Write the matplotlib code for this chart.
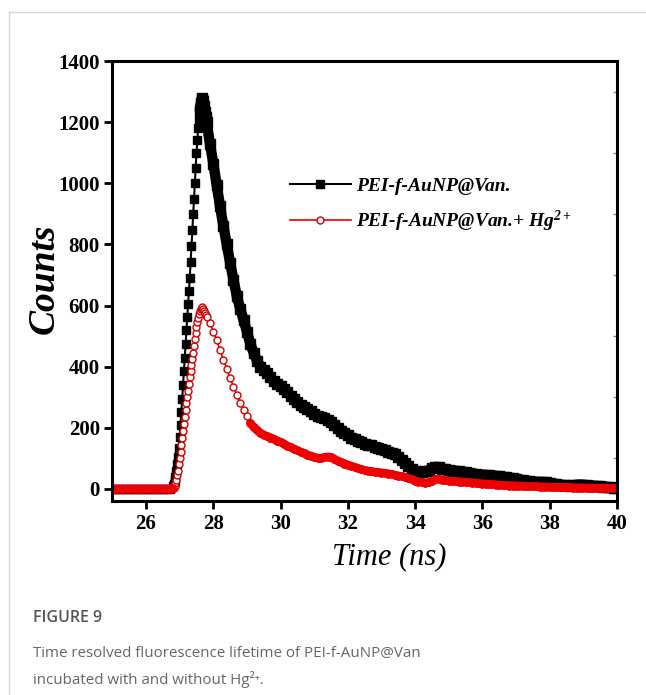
import numpy as np
import matplotlib.pyplot as plt
from matplotlib.lines import Line2D
from matplotlib.ticker import MultipleLocator

plt.rcParams['font.family'] = 'Liberation Serif'
plt.rcParams['font.weight'] = 'bold'
plt.rcParams['mathtext.fontset'] = 'custom'
plt.rcParams['mathtext.rm'] = 'Liberation Serif:italic:bold'
plt.rcParams['mathtext.it'] = 'Liberation Serif:italic:bold'
plt.rcParams['mathtext.bf'] = 'Liberation Serif:italic:bold'

# time channels (ns)
time_ns = [
    25.0, 25.1, 25.2, 25.3, 25.4, 25.5, 25.6, 25.7, 25.8, 25.9,
    26.0, 26.1, 26.2, 26.3, 26.4, 26.5, 26.6, 26.7,
    26.8, 26.825, 26.85, 26.875, 26.9, 26.925, 26.95, 26.975,
    27.0, 27.025, 27.05, 27.075, 27.1, 27.125, 27.15, 27.175,
    27.2, 27.225, 27.25, 27.275, 27.3, 27.325, 27.35, 27.375,
    27.4, 27.425, 27.45, 27.475, 27.5, 27.525, 27.55, 27.575,
    27.6, 27.625, 27.65, 27.675, 27.7, 27.725, 27.75, 27.775, 27.8,
    27.9, 28.0, 28.1, 28.2, 28.3, 28.4, 28.5, 28.6, 28.7, 28.8,
    28.9, 29.0, 29.1, 29.2, 29.3, 29.4, 29.5, 29.6, 29.7, 29.8,
    29.9, 30.0, 30.1, 30.2, 30.3, 30.4, 30.5, 30.6, 30.7, 30.8,
    30.9, 31.0, 31.1, 31.2, 31.3, 31.4, 31.5, 31.6, 31.7, 31.8,
    31.9, 32.0, 32.1, 32.2, 32.3, 32.4, 32.5, 32.6, 32.7, 32.8,
    32.9, 33.0, 33.1, 33.2, 33.3, 33.4, 33.5, 33.6, 33.7, 33.8,
    33.9, 34.0, 34.1, 34.2, 34.3, 34.4, 34.5, 34.6, 34.7, 34.8,
    34.9, 35.0, 35.1, 35.2, 35.3, 35.4, 35.5, 35.6, 35.7, 35.8,
    35.9, 36.0, 36.1, 36.2, 36.3, 36.4, 36.5, 36.6, 36.7, 36.8,
    36.9, 37.0, 37.1, 37.2, 37.3, 37.4, 37.5, 37.6, 37.7, 37.8,
    37.9, 38.0, 38.1, 38.2, 38.3, 38.4, 38.5, 38.6, 38.7, 38.8,
    38.9, 39.0, 39.1, 39.2, 39.3, 39.4, 39.5, 39.6, 39.7, 39.8,
    39.9, 40.0,
]

counts_van = [
    0, 0, 0, 0, 0, 0, 0, 0, 0, 0,
    0, 0, 0, 0, 0, 0, 0, 0,
    8, 15, 25, 40, 60, 82, 105, 135,
    170, 210, 250, 295, 340, 385, 430, 475,
    520, 562, 605, 648, 690, 742, 795, 848,
    900, 950, 1000, 1050, 1100, 1142, 1180, 1212,
    1240, 1262, 1275, 1278, 1268, 1252, 1235, 1218, 1200,
    1130, 1065, 995, 925, 860, 800, 740, 684, 630, 590,
    553, 515, 475, 445, 420, 400, 388, 378, 365, 352,
    342, 336, 328, 318, 305, 295, 285, 275, 268, 262,
    255, 245, 240, 236, 232, 226, 218, 208, 200, 190,
    182, 175, 168, 162, 157, 152, 148, 145, 142, 138,
    135, 130, 126, 122, 118, 113, 105, 96, 85, 74,
    65, 58, 56, 55, 57, 60, 68, 72, 70, 66,
    64, 62, 60, 59, 57, 55, 54, 52, 50, 49,
    47, 46, 45, 44, 43, 42, 41, 40, 38, 36,
    34, 32, 30, 28, 26, 25, 24, 23, 22, 22,
    21, 19, 17, 15, 13, 12, 12, 11, 12, 13,
    14, 13, 12, 11, 10, 9, 8, 7, 6, 5,
    4, 3,
]

counts_van_hg = [
    0, 0, 0, 0, 0, 0, 0, 0, 0, 0,
    0, 0, 0, 0, 0, 0, 0, 0,
    2, 4, 8, 18, 30, 44, 60, 80,
    100, 122, 145, 168, 190, 212, 235, 258,
    280, 300, 322, 344, 365, 385, 405, 425,
    445, 468, 490, 510, 530, 546, 560, 572,
    582, 589, 593, 594, 590, 583, 575, 568, 562,
    543, 515, 487, 455, 422, 393, 362, 335, 308, 281,
    258, 237, 216, 202, 192, 183, 177, 172, 168, 163,
    158, 153, 147, 141, 136, 131, 126, 121, 117, 112,
    108, 104, 101, 101, 103, 105, 104, 98, 92, 87,
    83, 79, 75, 71, 67, 64, 61, 59, 57, 55,
    54, 53, 52, 50, 48, 45, 43, 41, 38, 35,
    31, 27, 24, 22, 20, 21, 26, 31, 32, 30,
    28, 27, 26, 25, 24, 23, 22, 21, 20, 19,
    18, 17, 16, 15, 15, 14, 13, 12, 12, 11,
    11, 10, 10, 9, 9, 8, 8, 8, 7, 7,
    7, 6, 6, 6, 5, 5, 5, 5, 4, 4,
    4, 4, 3, 3, 3, 3, 3, 3, 2, 2,
    2, 2,
]

labels = ['PEI-f-AuNP@Van.', r'PEI-f-AuNP@Van.+ Hg$^{2+}$']

t = np.array(time_ns)
c1 = np.array(counts_van)
c2 = np.array(counts_van_hg)

fig = plt.figure(figsize=(6.46, 6.95), dpi=100)
ax = fig.add_axes([0.174, 0.279, 0.781, 0.633])

black = '#000000'
red = '#ee0000'

ax.plot(t, c1, '-', color=black, lw=1.5, marker='s', markersize=5.5,
        markerfacecolor=black, markeredgecolor=black, label=labels[0])
# decay part is a dense run of squares -> thick band
dec = t >= 27.6
ax.plot(t[dec], c1[dec], '-', color=black, lw=7.5, marker='s', markersize=7,
        markerfacecolor=black, markeredgecolor=black, solid_capstyle='round')

ax.plot(t, c2, '-', color=red, lw=1.2, marker='o', markersize=5,
        markerfacecolor='white', markeredgecolor='#d00000', markeredgewidth=1,
        label=labels[1])
# baseline and tail: circles merge into a solid red band
for seg in (t <= 26.8, t >= 29.1):
    ax.plot(t[seg], c2[seg], '-', color=red, lw=6, marker='o', markersize=5,
            markerfacecolor=red, markeredgecolor=red, solid_capstyle='round')

ax.set_xlim(25, 40)
ax.set_ylim(-40, 1400)
ax.xaxis.set_major_locator(MultipleLocator(2))
ax.yaxis.set_major_locator(MultipleLocator(200))
ax.yaxis.set_minor_locator(MultipleLocator(100))

for s in ax.spines.values():
    s.set_linewidth(2.2)
ax.tick_params(which='major', direction='out', length=6, width=2,
               labelsize=15, pad=3)
ax.tick_params(which='minor', left=False, right=True, direction='in',
               length=3, width=1, color='#888888')

ax.set_xlabel('Time (ns)', fontsize=22, fontstyle='italic', fontweight='normal',
              va='top')
ax.xaxis.set_label_coords(0.548, -0.093)
ax.set_ylabel('Counts', fontsize=27, fontstyle='italic', fontweight='bold')
ax.yaxis.set_label_coords(-0.1, 0.505)

ax.legend(loc='upper left', bbox_to_anchor=(0.318, 0.776), frameon=False,
          numpoints=1, handlelength=3.1, handletextpad=0.3, labelspacing=0.7,
          prop={'family': 'Liberation Serif', 'style': 'italic',
                'weight': 'bold', 'size': 14})

# card border and caption
fig.add_artist(Line2D([9 / 646, 9 / 646], [0, 1 - 12 / 695],
                      transform=fig.transFigure, color='#d4d4d4', lw=1))
fig.add_artist(Line2D([9 / 646, 1], [1 - 12 / 695, 1 - 12 / 695],
                      transform=fig.transFigure, color='#d4d4d4', lw=1))
fig.text(33 / 646, 1 - 618 / 695, 'FIGURE 9', family='Open Sans',
         fontsize=11.5, fontweight='semibold', color='#555555', va='center')
fig.text(33 / 646, 1 - 653 / 695,
         'Time resolved fluorescence lifetime of PEI-f-AuNP@Van',
         family='Open Sans', fontsize=10.9, fontweight='normal',
         color='#666666', va='center')
fig.text(33 / 646, 1 - 680 / 695, 'incubated with and without Hg²⁺.',
         family=['Open Sans', 'DejaVu Sans'], fontsize=10.9,
         fontweight='normal', color='#666666', va='center')

fig.savefig('out.png', dpi=100)
